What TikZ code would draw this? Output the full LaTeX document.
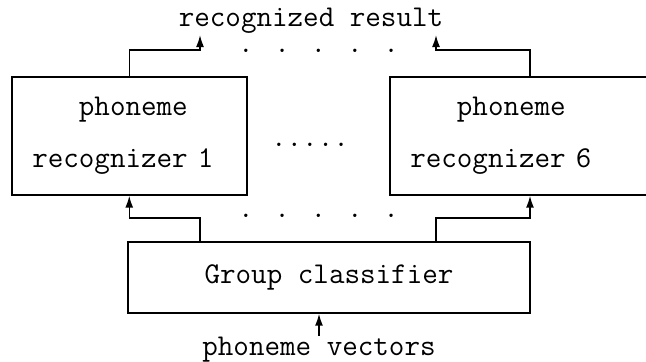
\documentclass[tikz,border=0pt]{standalone}
\usepackage{fontspec}
\usetikzlibrary{arrows.meta}

\tikzset{
    txt/.style={font=\ttfamily\fontsize{15.1pt}{26pt}\selectfont,inner sep=0.5pt},
    recbox/.style={txt,draw,line width=0.75pt,align=left,text width=97pt,
        inner xsep=10.25pt,inner ysep=0pt,minimum height=59pt,anchor=west},
    arr/.style={line width=0.75pt,-{Latex[length=6pt,width=4pt]}}
}

\begin{document}
\begin{tikzpicture}[x=0.5pt,y=-0.5pt]
    \clip (0,0) rectangle (646,362);
    %\draw[red] (0,0) rectangle (646,362);
    \node[recbox] at (11,136) (1) {\phantom{rec}phoneme\\recognizer 1};
    \node[recbox,text width=150pt] at (389,136) (2) {\phantom{rec}phoneme\\recognizer 6};
    \node[txt,draw,line width=0.75pt,minimum width=201pt,minimum height=35.5pt] at (329,277.5) (3) {Group classifier};
    \node[txt] at (319,350) (4) {phoneme vectors};
    \node[txt] at (311,21) (5) {recognized result};
    \node[txt] at (318.5,51) (6) {. . . . .};
    \node[txt] at (310,145) (7) {.....};
    \node[txt] at (318.5,216) (8) {. . . . .};
    \coordinate (a) at (200,0);
    \coordinate (b) at (436,0);
    \coordinate (c) at (530,0);
    \draw[arr] (1.north) -- ++(0,-26) -| (5.south -| a);
    \draw[arr] (2.north -| c) -- ++(0,-26) -| (5.south -| b);
    \draw[arr] (3.north -| a) -- ++(0,-23) -| (1.south);
    \draw[arr] (3.north -| b) -- ++(0,-23) -| (2.south -| c);
    \draw[arr] (4.north) -- (3.south -| 4.north);
\end{tikzpicture}
\end{document}
